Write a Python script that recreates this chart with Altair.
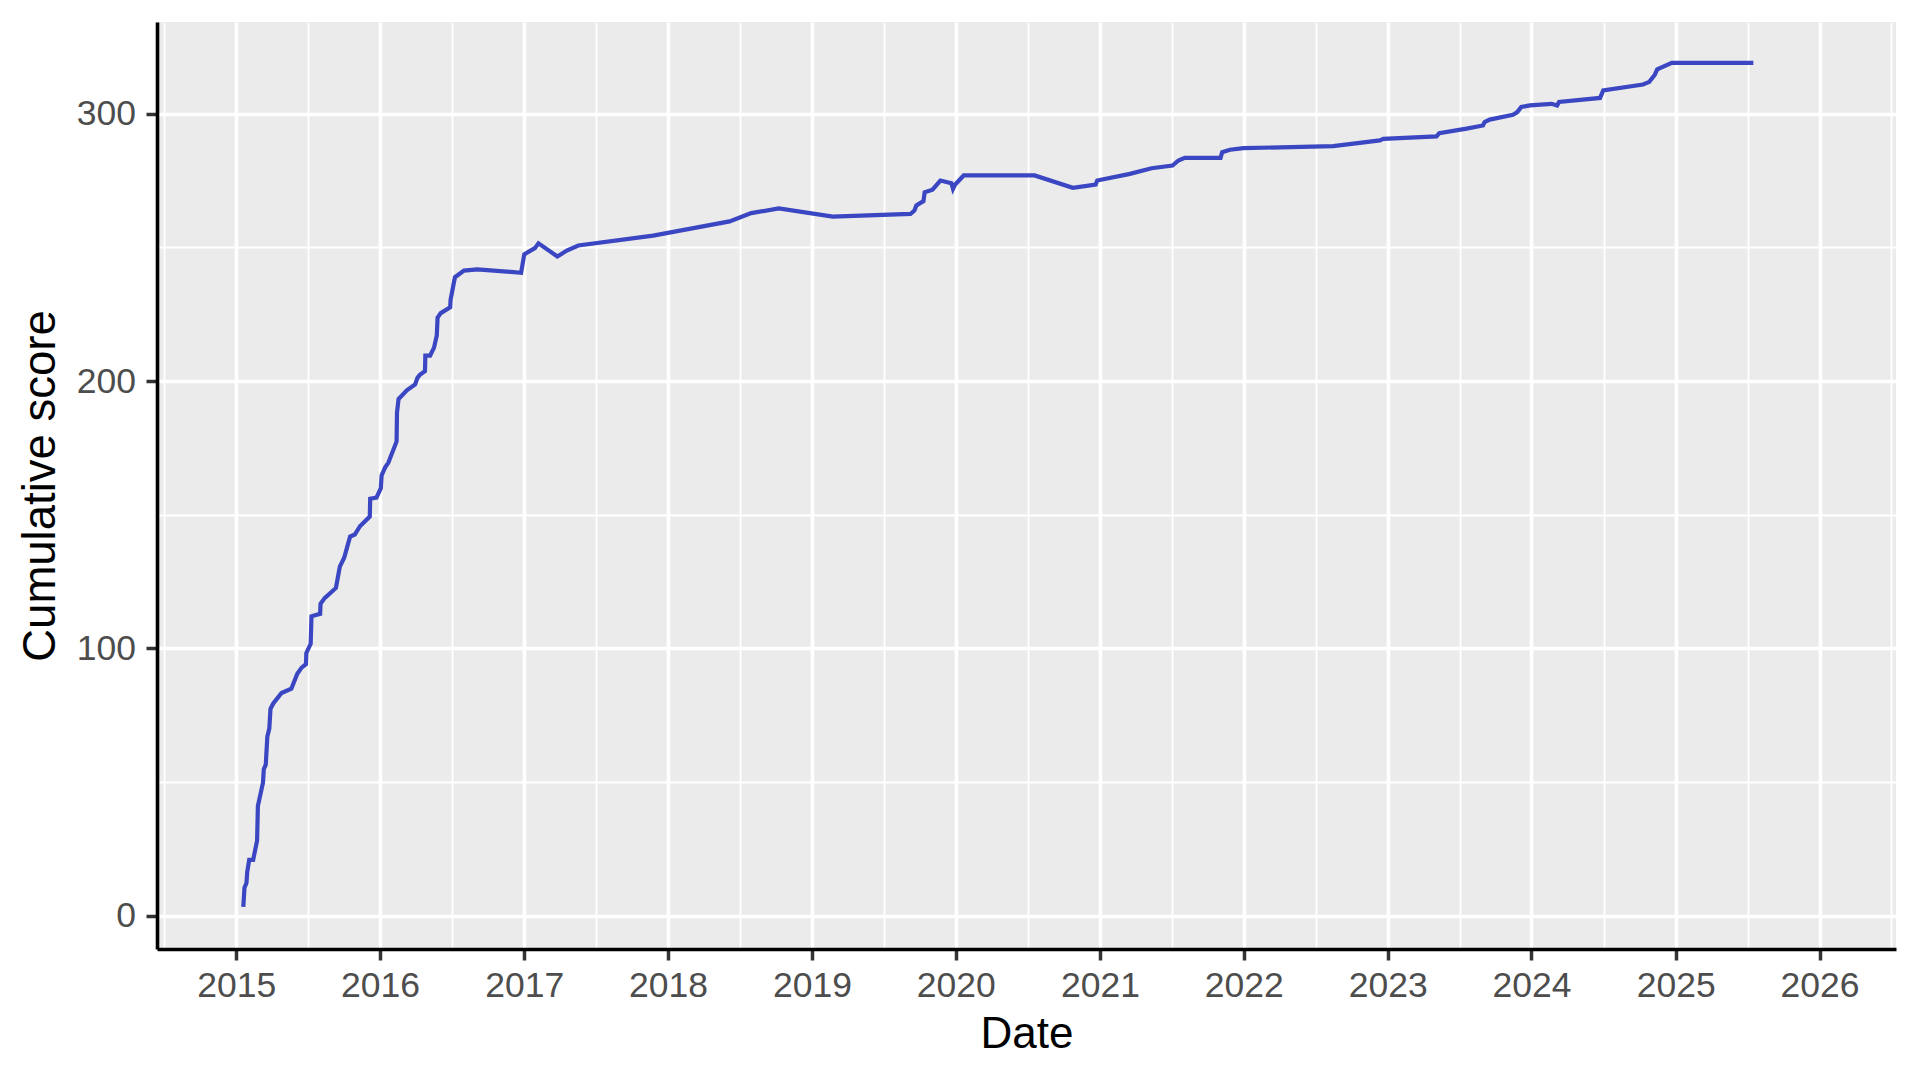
import altair as alt
import pandas as pd

dates = [
    "2015-01-19", "2015-01-22", "2015-01-27", "2015-01-29", "2015-02-03", "2015-02-13",
    "2015-02-23", "2015-02-25", "2015-03-10", "2015-03-12", "2015-03-17", "2015-03-21",
    "2015-03-26", "2015-03-29", "2015-04-05", "2015-04-26", "2015-05-21", "2015-06-05",
    "2015-06-16", "2015-06-27", "2015-06-28", "2015-07-09", "2015-07-11", "2015-08-02",
    "2015-08-03", "2015-08-14", "2015-09-11", "2015-09-21", "2015-10-02", "2015-10-17",
    "2015-10-29", "2015-11-11", "2015-12-06", "2015-12-07", "2015-12-23", "2016-01-03",
    "2016-01-05", "2016-01-14", "2016-01-22", "2016-02-12", "2016-02-13", "2016-02-17",
    "2016-03-09", "2016-03-30", "2016-04-05", "2016-04-11", "2016-04-24", "2016-04-25",
    "2016-05-07", "2016-05-17", "2016-05-24", "2016-05-26", "2016-06-03", "2016-06-27",
    "2016-06-28", "2016-07-09", "2016-08-01", "2016-09-04", "2016-12-24", "2017-01-01",
    "2017-01-28", "2017-02-06", "2017-03-26", "2017-04-19", "2017-05-18", "2017-11-24",
    "2018-06-06", "2018-07-31", "2018-10-09", "2019-02-23", "2019-09-08", "2019-09-18",
    "2019-09-23", "2019-10-11", "2019-10-14", "2019-11-03", "2019-11-23", "2019-12-21",
    "2019-12-25", "2019-12-30", "2020-01-21", "2020-07-19", "2020-10-24", "2020-12-21",
    "2020-12-25", "2021-03-18", "2021-05-12", "2021-07-04", "2021-07-19", "2021-08-04",
    "2021-11-03", "2021-11-07", "2021-11-27", "2021-12-31", "2022-08-16", "2022-12-12",
    "2022-12-21", "2023-05-05", "2023-05-12", "2023-07-20", "2023-08-31", "2023-09-04",
    "2023-09-17", "2023-11-15", "2023-11-26", "2023-12-06", "2023-12-28", "2024-02-21",
    "2024-03-06", "2024-03-11", "2024-06-23", "2024-07-01", "2024-10-10", "2024-10-26",
    "2024-11-09", "2024-11-15", "2024-12-22", "2025-07-17",
]

scores = [
    3.3, 10.5, 12.2, 16.4, 20.9, 20.9,
    28.1, 41.0, 49.8, 54.8, 56.5, 67.0,
    70.0, 77.4, 79.4, 83.3, 84.9, 90.5,
    92.8, 94.1, 98.3, 101.7, 112.0, 112.9,
    116.7, 118.9, 122.6, 130.6, 133.9, 141.8,
    142.6, 145.7, 149.3, 156.0, 156.4, 159.9,
    164.7, 167.7, 169.4, 177.4, 188.1, 193.3,
    196.5, 198.7, 201.2, 202.3, 203.7, 209.5,
    209.5, 212.5, 217.0, 223.7, 225.4, 227.6,
    230.4, 238.8, 241.3, 241.8, 240.5, 247.4,
    249.7, 251.5, 246.6, 248.8, 250.7, 254.4,
    259.7, 262.8, 264.6, 261.5, 262.5, 263.8,
    265.7, 267.3, 270.6, 271.6, 275.0, 274.0,
    271.9, 273.4, 276.9, 276.9, 272.3, 273.5,
    275.0, 277.5, 279.6, 280.6, 282.5, 283.5,
    283.5, 285.6, 286.5, 287.1, 287.9, 290.0,
    290.6, 291.5, 292.7, 294.4, 295.6, 296.9,
    297.8, 299.6, 300.6, 302.5, 303.1, 303.7,
    303.1, 304.4, 305.9, 308.7, 310.9, 311.9,
    314.6, 316.6, 319.0, 319.0,
]

major_years = list(range(2015, 2027))
minor_years = list(range(2014, 2027))
y_major = [0, 100, 200, 300]
y_minor = [50, 150, 250]

df = pd.DataFrame({"date": dates, "score": scores})

FONT = "Liberation Sans"

x_scale = alt.Scale(
    type="utc",
    domain=[alt.DateTime(year=2014, month=6, date=14, utc=True),
            alt.DateTime(year=2026, month=7, date=14, utc=True)],
)
y_scale = alt.Scale(domain=[-12.45, 334.3], nice=False, zero=False)

minor_layer = alt.Chart(df).mark_line(opacity=0).encode(
    x=alt.X("date:T", scale=x_scale, axis=alt.Axis(
        values=[alt.DateTime(year=y, month=7, date=2, hours=12, utc=True) for y in minor_years],
        grid=True, gridColor="white", gridWidth=1.8, labels=False, ticks=False,
        domain=False, title=None, orient="bottom")),
    y=alt.Y("score:Q", scale=y_scale, axis=alt.Axis(
        values=y_minor, grid=True, gridColor="white", gridWidth=1.8, labels=False,
        ticks=False, domain=False, title=None, orient="left")),
)

main_layer = alt.Chart(df).mark_line(color="#3A46C2", strokeWidth=4.2).encode(
    x=alt.X("date:T", scale=x_scale, title="Date", axis=alt.Axis(
        values=[alt.DateTime(year=y, month=1, date=1, utc=True) for y in major_years],
        format="%Y", grid=True, gridColor="white", gridWidth=3.6,
        tickSize=11, tickWidth=3.5, tickColor="#333333",
        labelPadding=8, labelFontSize=35.5, labelColor="#4D4D4D", labelFont=FONT,
        domain=True, domainColor="black", domainWidth=3.6,
        titleFontSize=44, titleFont=FONT, titleColor="black", titleFontWeight="normal",
        titlePadding=9, orient="bottom")),
    y=alt.Y("score:Q", scale=y_scale, title="Cumulative score", axis=alt.Axis(
        values=y_major, grid=True, gridColor="white", gridWidth=3.6,
        tickSize=11, tickWidth=3.5, tickColor="#333333",
        labelPadding=10.5, labelFontSize=35.5, labelColor="#4D4D4D", labelFont=FONT,
        domain=True, domainColor="black", domainWidth=3.6,
        titleFontSize=45.5, titleFont=FONT, titleColor="black", titleFontWeight="normal",
        titlePadding=12, orient="left")),
)

chart = alt.layer(minor_layer, main_layer).resolve_axis(
    x="independent", y="independent"
).properties(
    width=1739,
    height=927,
    autosize=alt.AutoSizeParams(type="none"),
    padding={"left": 149, "top": 14, "right": 16, "bottom": 120},
    background="white",
).configure_view(
    fill="#EBEBEB", stroke=None
)

chart.save("out.html", embed_options={"renderer": "svg", "actions": False})
